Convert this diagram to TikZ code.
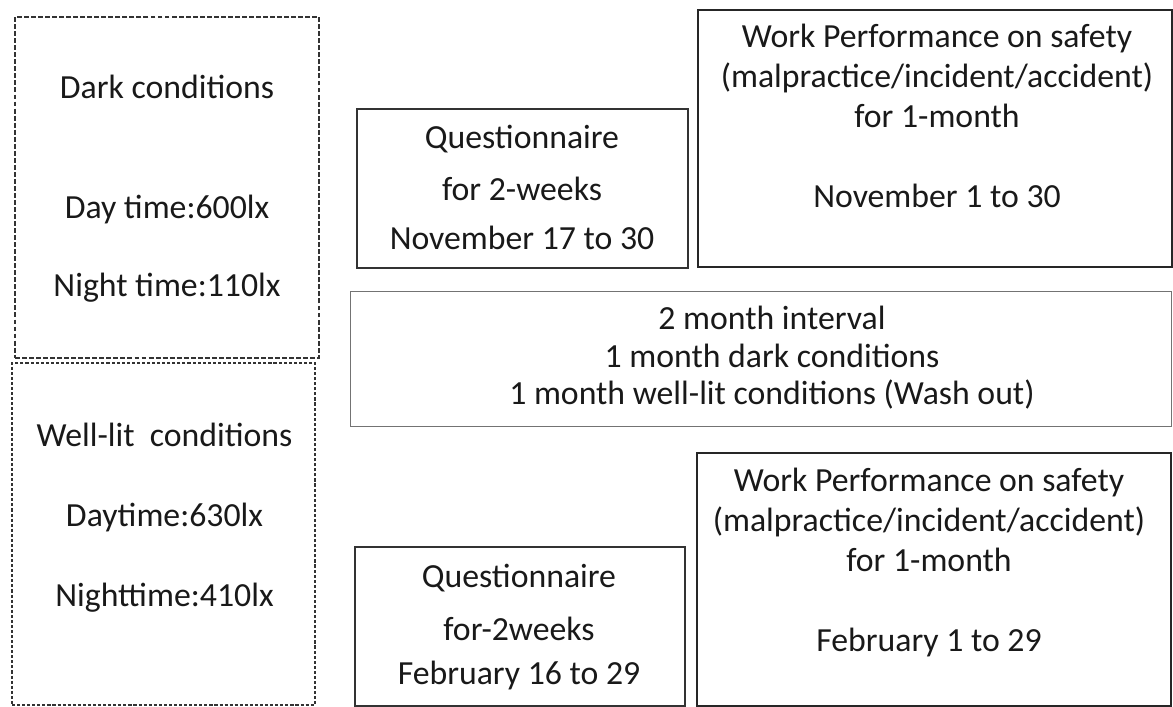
\documentclass[tikz,border=0pt]{standalone}
\usepackage{fontspec}
\setmainfont{Carlito}
\usetikzlibrary{positioning}
\tikzstyle{darkbox} = [rectangle, 
draw=black!80, 
line width=0.85pt, 
dash pattern=on 3.5pt off 1.5pt]
\tikzstyle{litbox} = [rectangle, 
draw=black!80, 
line width=0.85pt, 
dash pattern=on 2.2pt off 1.4pt]
\tikzstyle{quest} = [rectangle, 
draw=black!80, 
line width=1pt]
\tikzstyle{perf} = [rectangle, 
draw=black!85, 
line width=1.9pt]
\tikzstyle{gap} = [rectangle, 
draw=black!55, 
line width=0.7pt]
\tikzstyle{txt} = [align=center, 
inner sep=0pt, 
anchor=base, 
text=black!90, 
font=\fontsize{24}{28.5}\selectfont]

\begin{document}
\begin{tikzpicture}[x=0.025cm, y=-0.025cm]

  \useasboundingbox (0,0) rectangle (1173,707);

  % left column
  \node (dark) [darkbox, minimum width=304*0.025cm, minimum height=341*0.025cm] at (167,187.5) {};
  \node (lit) [litbox, minimum width=303*0.025cm, minimum height=342*0.025cm] at (163.5,534) {};
  \node (darktxt) [txt] at (167,297) {Dark conditions\\[57pt]Day time:600lx\\[27.5pt]Night time:110lx};
  \node (littxt) [txt] at (164.5,607) {Well-lit\ \ conditions\\[28pt]Daytime:630lx\\[29pt]Nighttime:410lx};

  % first period
  \node (quest1) [quest, minimum width=331*0.025cm, minimum height=159*0.025cm] at (522.5,188.5) {};
  \node (perf1) [perf, minimum width=474*0.025cm, minimum height=257*0.025cm] at (935,138.5) {};
  \node (quest1txt) [txt] at (522,250) {Questionnaire\\[8pt]for 2-weeks\\[7pt]November 17 to 30};
  \node (perf1txt) [txt] at (937,208) {Work Performance on safety\\(malpractice/incident/accident)\\for 1-month\\[28.5pt]November 1 to 30};

  % wash out
  \node (interval) [gap, minimum width=821*0.025cm, minimum height=135*0.025cm] at (760.5,358.5) {};
  \node (intervaltxt) [txt, font=\fontsize{24}{27}\selectfont] at (772,405) {2 month interval\\1 month dark conditions\\1 month well-lit conditions (Wash out)};

  % second period
  \node (quest2) [quest, minimum width=330*0.025cm, minimum height=159*0.025cm] at (520,626.5) {};
  \node (perf2) [perf, minimum width=474*0.025cm, minimum height=253*0.025cm] at (934,579.5) {};
  \node (quest2txt) [txt] at (519,685) {Questionnaire\\[9pt]for-2weeks\\[3.5pt]February 16 to 29};
  \node (perf2txt) [txt] at (929,652) {Work Performance on safety\\(malpractice/incident/accident)\\for 1-month\\[28.5pt]February 1 to 29};

\end{tikzpicture}
\end{document}
